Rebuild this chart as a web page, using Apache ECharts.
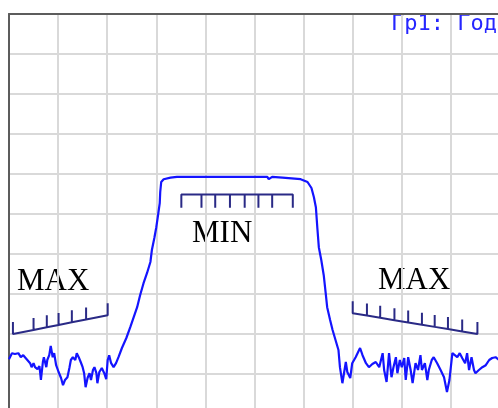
<!DOCTYPE html>
<html>
<head>
<meta charset="utf-8">
<script src="https://cdn.jsdelivr.net/npm/echarts@6/dist/echarts.min.js"></script>
<style>
  html, body { margin: 0; padding: 0; background: #fff; }
  #chart { width: 498px; height: 408px; }
</style>
</head>
<body>
<div id="chart"></div>
<script>
// trace: x in 1/10 div, y in dB (10 dB/div, top = 0)
const trace = [
  [0, -86.3], [0.6, -84.8], [1.2, -85], [1.9, -84.8], [2.4, -85.8], [2.9, -85.3], [3.6, -86.3],
  [4.3, -87.3], [4.6, -88.3], [5.0, -87.3], [5.3, -88.3], [5.8, -88.8], [6.2, -88], [6.5, -91.5],
  [6.9, -87], [7.1, -85.8], [7.6, -88.3], [7.8, -86.5], [8.2, -85.3], [8.5, -83], [8.9, -85.8],
  [9.2, -84.8], [9.6, -87.8], [10.1, -89.5], [10.6, -91], [11.0, -92.8], [11.4, -91.5], [11.9, -90.8],
  [12.3, -88.5], [12.6, -86.5], [13.0, -85.8], [13.5, -86.5], [13.8, -84.8], [14.2, -85.8], [14.6, -87],
  [15.0, -88.3], [15.3, -89.8], [15.6, -93.3], [16.0, -91], [16.4, -89.8], [16.7, -91.5], [17.1, -89],
  [17.4, -88.3], [17.8, -89.8], [18.0, -92.3], [18.4, -89.5], [18.9, -88.5], [19.4, -89.8], [19.8, -91.3],
  [20.1, -86.5], [20.4, -85.3], [20.8, -87.3], [21.3, -88.3], [21.8, -87.3], [22.3, -85.8], [23.0, -83.5],
  [23.9, -81], [24.7, -78.3], [25.4, -75.8], [26.1, -73.3], [26.7, -70.3], [27.4, -67.3], [28.1, -64.8],
  [28.8, -62], [29.1, -59], [29.6, -56], [30.0, -53.3], [30.3, -50.8], [30.7, -47.3], [30.8, -44.5],
  [31.0, -42], [31.5, -41.3], [32.9, -40.9], [34.2, -40.7], [52.6, -40.7], [52.9, -41.3], [53.6, -40.7],
  [55.7, -40.9], [59.4, -41.3], [60.8, -42], [61.6, -43.5], [62.1, -45.8], [62.5, -48.3], [62.8, -53.5],
  [63.1, -58.3], [63.6, -61.5], [64.1, -65.3], [64.5, -69.8], [64.8, -73.3], [65.4, -76.5], [65.9, -79],
  [66.5, -81.5], [67.1, -84], [67.4, -88.3], [67.9, -92.3], [68.2, -92.5], [68.6, -87], [68.9, -89.5],
  [69.5, -91], [69.9, -87.3], [70.6, -85.8], [71.5, -83.5], [72.0, -85.3], [72.7, -87.3], [73.3, -88.3],
  [74.0, -87.5], [74.7, -87], [75.4, -88.3], [76.1, -84.8], [76.4, -89], [76.9, -92], [77.4, -84.8],
  [77.9, -90.8], [78.3, -88.3], [78.8, -85.8], [79.1, -89.8], [79.6, -86.5], [80.0, -88.3], [80.5, -86],
  [80.8, -91.5], [81.3, -85.8], [81.8, -89], [82.2, -92.3], [82.8, -87.3], [83.3, -89], [83.8, -85.3],
  [84.1, -89], [84.7, -87.3], [85.2, -91.5], [85.5, -89], [86.1, -86.5], [86.5, -85.8], [87.2, -87.3],
  [87.9, -89], [88.6, -90.8], [89.2, -94.5], [89.7, -91.5], [90.3, -84.8], [90.8, -85.3], [91.3, -85.8],
  [91.8, -84.8], [92.3, -86], [92.9, -87.3], [93.3, -84.8], [93.7, -89], [94.2, -85.8], [94.7, -89],
  [95.0, -89.8], [95.7, -89], [96.4, -88.3], [97.1, -87.8], [97.8, -86.5], [98.4, -86], [99.1, -85.8],
  [99.8, -86.5]
];

// limit lines: end points and tick positions
const maxLeftEnds = [[0.8, -80], [20.1, -75.3]];
const maxLeftTicks = [0.8, 5.0, 7.7, 10.1, 12.8, 15.7, 20.1];
const minEnds = [[35.1, -45.1], [57.8, -45.1]];
const minTicks = [35.1, 39.2, 42.0, 45.0, 48.0, 50.8, 53.6, 57.8];
const maxRightEnds = [[70.0, -74.8], [95.4, -80.0]];
const maxRightTicks = [70.0, 72.9, 75.6, 78.5, 81.3, 84.1, 86.7, 89.4, 92.3, 95.4];

const limitLabels = ['MAX', 'MIN', 'MAX'];
const traceTitle = 'Гр1: Год';

const TICK_UP = 3;
const TICK_DOWN = -3.35;

function limitPath(ends, ticks, len) {
  const [a, b] = ends;
  const pts = [];
  ticks.forEach(x => {
    const t = (x - a[0]) / (b[0] - a[0]);
    const y = a[1] + t * (b[1] - a[1]);
    pts.push([x, y], [x, y + len], [x, y]);
  });
  return pts;
}

const gridLine = { show: true, lineStyle: { color: '#d9d9d9', width: 2 } };
const frameLine = { show: true, lineStyle: { color: '#5c5c5c', width: 2 } };
const limitStyle = { color: '#2a2a86', width: 2 };
const serif = '31px "Liberation Serif"';

const chart = echarts.init(document.getElementById('chart'));
chart.setOption({
  animation: false,
  backgroundColor: '#fff',
  grid: { left: 9, top: 14, width: 491, height: 400, show: false, outerBoundsMode: 'none' },
  xAxis: {
    type: 'value', position: 'top', min: 0, max: 100, interval: 10,
    axisLine: frameLine, axisTick: { show: false }, axisLabel: { show: false },
    splitLine: gridLine
  },
  yAxis: {
    type: 'value', position: 'left', min: -100, max: 0, interval: 10,
    axisLine: frameLine, axisTick: { show: false }, axisLabel: { show: false },
    splitLine: gridLine
  },
  series: [
    {
      type: 'line', data: limitPath(maxLeftEnds, maxLeftTicks, TICK_UP),
      symbol: 'none', lineStyle: limitStyle
    },
    {
      type: 'line', data: limitPath(minEnds, minTicks, TICK_DOWN),
      symbol: 'none', lineStyle: limitStyle
    },
    {
      type: 'line', data: limitPath(maxRightEnds, maxRightTicks, TICK_UP),
      symbol: 'none', lineStyle: limitStyle
    },
    {
      type: 'line', data: trace, symbol: 'none',
      lineStyle: { color: '#1414ff', width: 2.2 }
    }
  ],
  graphic: [
    { type: 'text', x: 17, y: 282, style: { text: limitLabels[0], font: serif, fill: '#000', verticalAlign: 'middle' } },
    { type: 'text', x: 192, y: 234, style: { text: limitLabels[1], font: serif, fill: '#000', verticalAlign: 'middle' } },
    { type: 'text', x: 378, y: 281, style: { text: limitLabels[2], font: serif, fill: '#000', verticalAlign: 'middle' } },
    { type: 'text', x: 391, y: 24, style: { text: traceTitle, font: '22px "DejaVu Sans Mono"', fill: '#2626ff', verticalAlign: 'middle' } }
  ]
});
</script>
</body>
</html>
